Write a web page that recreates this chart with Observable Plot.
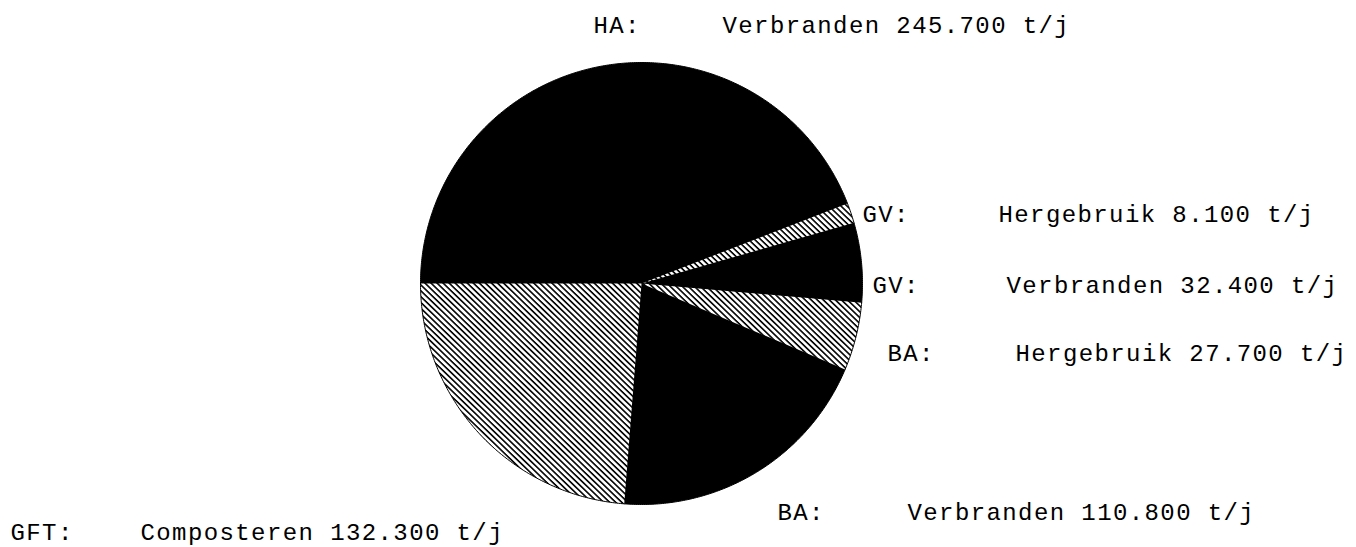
<!DOCTYPE html>
<html><head><meta charset="utf-8">
<script src="https://cdn.jsdelivr.net/npm/d3@7"></script>
<script src="https://cdn.jsdelivr.net/npm/@observablehq/plot@0.6"></script>
<style>body{margin:0;background:#fff;} svg{display:block;}</style>
</head><body><div id="chart"></div>
<script>
// ---- data ----
const groups = ["HA:", "GV:", "GV:", "BA:", "BA:", "GFT:"];
const treatments = ["Verbranden", "Hergebruik", "Verbranden", "Hergebruik", "Verbranden", "Composteren"];
const tonnes = [245.7, 8.1, 32.4, 27.7, 110.8, 132.3];
const valueLabels = ["245.700", "8.100", "32.400", "27.700", "110.800", "132.300"];
const unit = "t/j";

// ---- style / layout (not data) ----
const sliceFill = ["solid", "hatch", "solid", "hatch", "solid", "hatch"];
const W = 1356, H = 547, CX = 641, CY = 283, R = 221;
// [group x, baseline y, text x]
const labelPos = [[593, 32, 722], [862, 221, 998], [872, 292, 1006], [887, 360, 1015], [777, 519, 907], [10, 539, 140]];

// ---- pie geometry from values ----
const arcs = d3.pie().sort(null).value(d => d).startAngle(-Math.PI / 2).endAngle(3 * Math.PI / 2)(tonnes);
const pts = [];
arcs.forEach((a, i) => {
  const id = i;
  pts.push({id, x: CX, y: CY, kind: sliceFill[i]});
  const n = Math.max(2, Math.ceil((a.endAngle - a.startAngle) / (Math.PI / 360)));
  for (let k = 0; k <= n; k++) {
    const t = a.startAngle + (a.endAngle - a.startAngle) * k / n;
    pts.push({id, x: CX + R * Math.sin(t), y: CY - R * Math.cos(t), kind: sliceFill[i]});
  }
  pts.push({id, x: CX, y: CY, kind: sliceFill[i]});
});

const groupRows = groups.map((g, i) => ({x: labelPos[i][0], y: labelPos[i][1], text: g}));
const textRows = treatments.map((t, i) => ({x: labelPos[i][2], y: labelPos[i][1], text: `${t} ${valueLabels[i]} ${unit}`}));

const chart = Plot.plot({
  width: W, height: H, margin: 0,
  x: {domain: [0, W], range: [0, W], axis: null},
  y: {domain: [0, H], range: [0, H], axis: null},
  style: {fontFamily: "'Liberation Mono', 'DejaVu Sans Mono', monospace", letterSpacing: "1.4px", background: "#fff", color: "#000"},
  marks: [
    Plot.line(pts.filter(d => d.kind === "solid"), {x: "x", y: "y", z: "id", fill: "#000", stroke: "#000", strokeWidth: 1, curve: "linear"}),
    Plot.line(pts.filter(d => d.kind === "hatch"), {x: "x", y: "y", z: "id", fill: "url(#hatch)", stroke: "none", curve: "linear"}),
    Plot.line(pts.filter(d => d.kind === "hatch"), {x: "x", y: "y", z: "id", fill: "none", stroke: "#000", strokeWidth: 1, curve: "linear",
      filter: d => !(d.x === CX && d.y === CY)}),
    Plot.text(groupRows, {x: "x", y: "y", text: "text", textAnchor: "start", lineAnchor: "bottom", fontSize: 24, fill: "#000"}),
    Plot.text(textRows, {x: "x", y: "y", text: "text", textAnchor: "start", lineAnchor: "bottom", fontSize: 24, fill: "#000"})
  ]
});

const svg = d3.select(chart);
const pat = svg.insert("defs", ":first-child").append("pattern")
  .attr("id", "hatch").attr("patternUnits", "userSpaceOnUse")
  .attr("width", 10).attr("height", 4.2)
  .attr("patternTransform", "rotate(44)");
pat.append("rect").attr("width", 10).attr("height", 4.2).attr("fill", "#fff");
pat.append("rect").attr("width", 10).attr("height", 1.6).attr("fill", "#000");

document.getElementById("chart").appendChild(chart);
</script>
</body></html>
